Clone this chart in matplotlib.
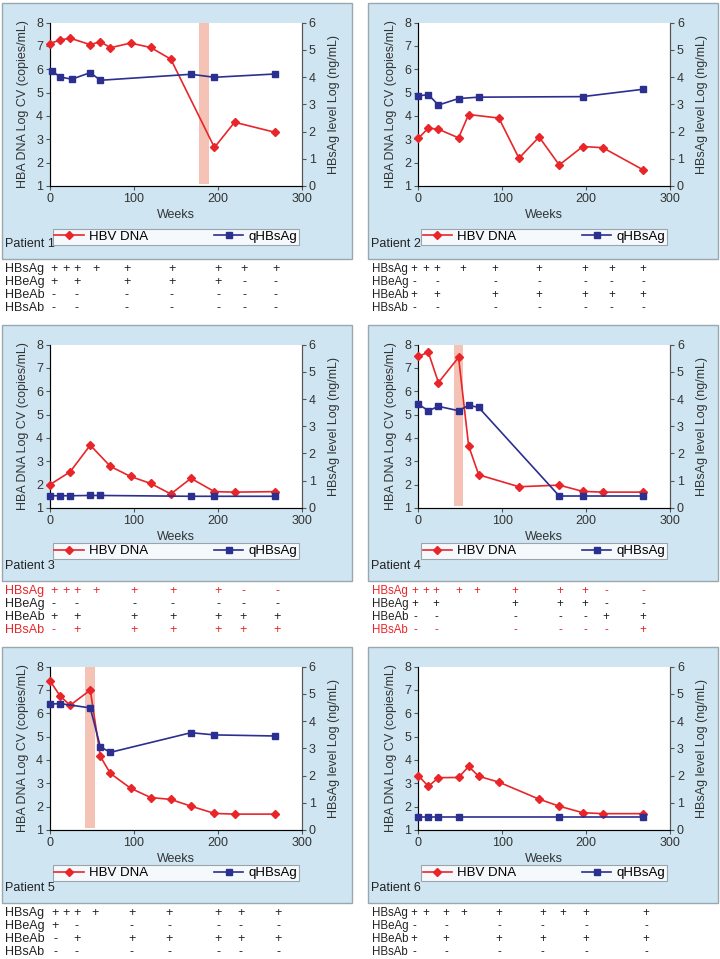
import matplotlib.pyplot as plt
from matplotlib.patches import Rectangle

plt.rcParams['font.family'] = ['Liberation Sans', 'DejaVu Sans']

W, H = 720, 959
RED = '#e8262a'
BLUE = '#2b2f8f'
BOXFILL = '#cfe6f2'
BAND = '#f5c3b6'

# ---- data (weeks, log values) ----
p1_dna_wk = [0, 12, 24, 48, 60, 72, 96, 120, 144, 196, 220, 268]
p1_dna = [7.1, 7.25, 7.33, 7.05, 7.18, 6.92, 7.12, 6.93, 6.43, 2.65, 3.73, 3.3]
p1_hbs_wk = [2, 12, 26, 48, 60, 168, 196, 268]
p1_hbs = [4.23, 4.0, 3.92, 4.16, 3.88, 4.1, 3.99, 4.11]

p2_dna_wk = [0, 12, 24, 48, 60, 96, 120, 144, 168, 196, 220, 268]
p2_dna = [3.04, 3.48, 3.43, 3.06, 4.06, 3.91, 2.19, 3.1, 1.9, 2.69, 2.64, 1.69]
p2_hbs_wk = [0, 12, 24, 48, 72, 196, 268]
p2_hbs = [3.31, 3.35, 2.97, 3.21, 3.26, 3.28, 3.55]

p3_dna_wk = [0, 24, 48, 72, 96, 120, 144, 168, 196, 220, 268]
p3_dna = [2.0, 2.55, 3.69, 2.78, 2.35, 2.05, 1.6, 2.27, 1.7, 1.68, 1.7]
p3_hbs_wk = [0, 12, 24, 48, 60, 168, 196, 268]
p3_hbs = [0.45, 0.45, 0.45, 0.46, 0.46, 0.43, 0.43, 0.43]

p4_dna_wk = [0, 12, 24, 48, 60, 72, 120, 168, 196, 220, 268]
p4_dna = [7.5, 7.66, 6.37, 7.45, 3.66, 2.42, 1.91, 1.98, 1.71, 1.68, 1.68]
p4_hbs_wk = [0, 12, 24, 48, 60, 72, 168, 196, 268]
p4_hbs = [3.81, 3.57, 3.73, 3.57, 3.77, 3.69, 0.44, 0.44, 0.44]

p5_dna_wk = [0, 12, 24, 48, 60, 72, 96, 120, 144, 168, 196, 220, 268]
p5_dna = [7.39, 6.74, 6.34, 6.99, 4.15, 3.42, 2.79, 2.39, 2.31, 2.02, 1.71, 1.68, 1.68]
p5_hbs_wk = [0, 12, 48, 60, 72, 168, 196, 268]
p5_hbs = [4.62, 4.64, 4.48, 3.05, 2.85, 3.57, 3.49, 3.45]

p6_dna_wk = [0, 12, 24, 48, 60, 72, 96, 144, 168, 196, 220, 268]
p6_dna = [3.33, 2.87, 3.24, 3.25, 3.72, 3.3, 3.05, 2.32, 2.02, 1.74, 1.7, 1.7]
p6_hbs_wk = [0, 12, 24, 48, 168, 268]
p6_hbs = [0.48, 0.48, 0.48, 0.48, 0.48, 0.48]

# treatment-switch bands (weeks)
bands = [(178, 190), None, None, (42, 53), (42, 54), None]

# serology table: one symbol per column ('' = blank)
markers = ['HBsAg', 'HBeAg', 'HBeAb', 'HBsAb']
p1_tab = [list('+++++++++'), ['+', '', '+', '', '+', '+', '+', '-', '-'],
          ['-', '', '-', '', '-', '-', '-', '-', '-'], ['-', '', '-', '', '-', '-', '-', '-', '-']]
p2_tab = [list('+++++++++'), ['-', '', '-', '', '-', '-', '-', '-', '-'],
          ['+', '', '+', '', '+', '+', '+', '+', '+'], ['-', '', '-', '', '-', '-', '-', '-', '-']]
p3_tab = [list('+++++++--'), ['-', '', '-', '', '-', '-', '-', '-', '-'],
          ['+', '', '+', '', '+', '+', '+', '+', '+'], ['-', '', '+', '', '+', '+', '+', '+', '+']]
p4_tab = [list('++++++++--'), ['+', '', '+', '', '', '+', '+', '+', '-', '-'],
          ['-', '', '-', '', '', '-', '-', '-', '+', '+'], ['-', '', '-', '', '', '-', '-', '-', '-', '+']]
p5_tab = [list('+++++++++'), ['+', '', '-', '', '-', '-', '-', '-', '-'],
          ['-', '', '+', '', '+', '+', '+', '+', '+'], ['-', '', '-', '', '-', '-', '-', '-', '-']]
p6_tab = [list('+++++++++'), ['-', '', '-', '', '-', '-', '', '-', '-'],
          ['+', '', '+', '', '+', '+', '', '+', '+'], ['-', '', '-', '', '-', '-', '', '-', '-']]
red_rows = [[], [], [0, 3], [0, 3], [], []]

# table column x positions (pixels)
cols = [
    [54, 65.7, 76.7, 96, 126.7, 171.7, 218.3, 244.3, 276],
    [414, 426, 437.3, 463.3, 495, 539, 585, 611.7, 643.3],
    [54, 65.7, 76.7, 96, 134.3, 172.7, 218.3, 243.3, 277.3],
    [415, 426, 436, 459.3, 476.7, 515, 560, 585, 606, 643.3],
    [55, 65.7, 76.7, 95, 131.7, 169.3, 218.3, 240.7, 278.3],
    [414, 426, 446, 464, 499.3, 542.7, 563.3, 586, 646],
]

panels = [
    (p1_dna_wk, p1_dna, p1_hbs_wk, p1_hbs, p1_tab),
    (p2_dna_wk, p2_dna, p2_hbs_wk, p2_hbs, p2_tab),
    (p3_dna_wk, p3_dna, p3_hbs_wk, p3_hbs, p3_tab),
    (p4_dna_wk, p4_dna, p4_hbs_wk, p4_hbs, p4_tab),
    (p5_dna_wk, p5_dna, p5_hbs_wk, p5_hbs, p5_tab),
    (p6_dna_wk, p6_dna, p6_hbs_wk, p6_hbs, p6_tab),
]

fig = plt.figure(figsize=(W / 100, H / 100), dpi=100)
fig.patch.set_facecolor('white')


def fx(x):
    return x / W


def fy(y):
    return 1 - y / H


for i, (dwk, dna, hwk, hbs, tab) in enumerate(panels):
    r, c = divmod(i, 2)
    box_left = [2, 368][c]
    box_top = 3 + 322 * r
    fig.patches.append(Rectangle((fx(box_left), fy(box_top + 256)), 350 / W, 256 / H,
                                 transform=fig.transFigure, facecolor=BOXFILL,
                                 edgecolor='#9aa7ae', linewidth=1, zorder=-10))

    ax_left = [50, 418.3][c]
    ax_top = box_top + 19.5
    ax = fig.add_axes([fx(ax_left), fy(ax_top + 163.5), 251.7 / W, 163.5 / H])
    ax.set_facecolor('white')
    ax.set_xlim(0, 300)
    ax.set_ylim(1, 8)
    ax.set_xticks([0, 100, 200, 300])
    ax.set_yticks(range(1, 9))
    ax.spines['top'].set_visible(False)
    for s in ['left', 'bottom', 'right']:
        ax.spines[s].set_color('#555555')
    ax.tick_params(labelsize=9, length=3, color='#555555', colors='#333333', pad=2)
    ax.set_xlabel('Weeks', fontsize=9, color='#333333', labelpad=3)
    ax.set_ylabel('HBA DNA Log CV (copies/mL)', fontsize=9, color='#333333', labelpad=5)

    if bands[i]:
        ax.axvspan(bands[i][0], bands[i][1], ymin=0.015, ymax=1, color=BAND, lw=0, zorder=0)

    ax2 = ax.twinx()
    ax2.set_ylim(0, 6)
    ax2.set_yticks(range(0, 7))
    ax2.spines['top'].set_visible(False)
    ax2.spines['right'].set_color('#555555')
    ax2.tick_params(labelsize=9, length=3, color='#555555', colors='#333333', pad=2)
    ax2.set_ylabel('HBsAg level Log (ng/mL)', fontsize=9, color='#333333', labelpad=9)

    h1, = ax2.plot(dwk, [(v - 1) * 6 / 7 for v in dna], color=RED, marker='D',
                   markersize=4.3, linewidth=1.2, label='HBV DNA', clip_on=False, zorder=3)
    h2, = ax2.plot(hwk, hbs, color=BLUE, marker='s', markersize=4.2,
                   linewidth=1.2, label='qHBsAg', clip_on=False, zorder=3)

    leg_y = -0.35 if r == 0 else -0.305
    leg = ax.legend([h1, h2], ['HBV DNA', 'qHBsAg'], loc='upper left',
                    bbox_to_anchor=(0.01, leg_y, 0.98, 0.09), mode='expand', ncol=2,
                    fontsize=9.5, frameon=True, fancybox=False, borderpad=0.15,
                    handlelength=2.2, handletextpad=0.4, borderaxespad=0)
    leg.get_frame().set_edgecolor('#8a9299')
    leg.get_frame().set_linewidth(0.8)

    fig.text(fx(box_left + 3), fy(box_top + 241), 'Patient %d' % (i + 1),
             fontsize=9, color='#222222', va='center', ha='left')

    # serology table under the panel
    lab_x = [5, 372][c]
    fs = [9, 8.3][c]
    row_off = [266, 279, 292, 305]
    for k, name in enumerate(markers):
        col = RED if k in red_rows[i] else '#222222'
        ty = fy(box_top + row_off[k])
        fig.text(fx(lab_x), ty, name, fontsize=fs, color=col, va='center', ha='left')
        for j, sym in enumerate(tab[k]):
            if sym:
                fig.text(fx(cols[i][j]), ty, sym, fontsize=fs, color=col,
                         va='center', ha='center')

fig.savefig('out.png', dpi=100)
